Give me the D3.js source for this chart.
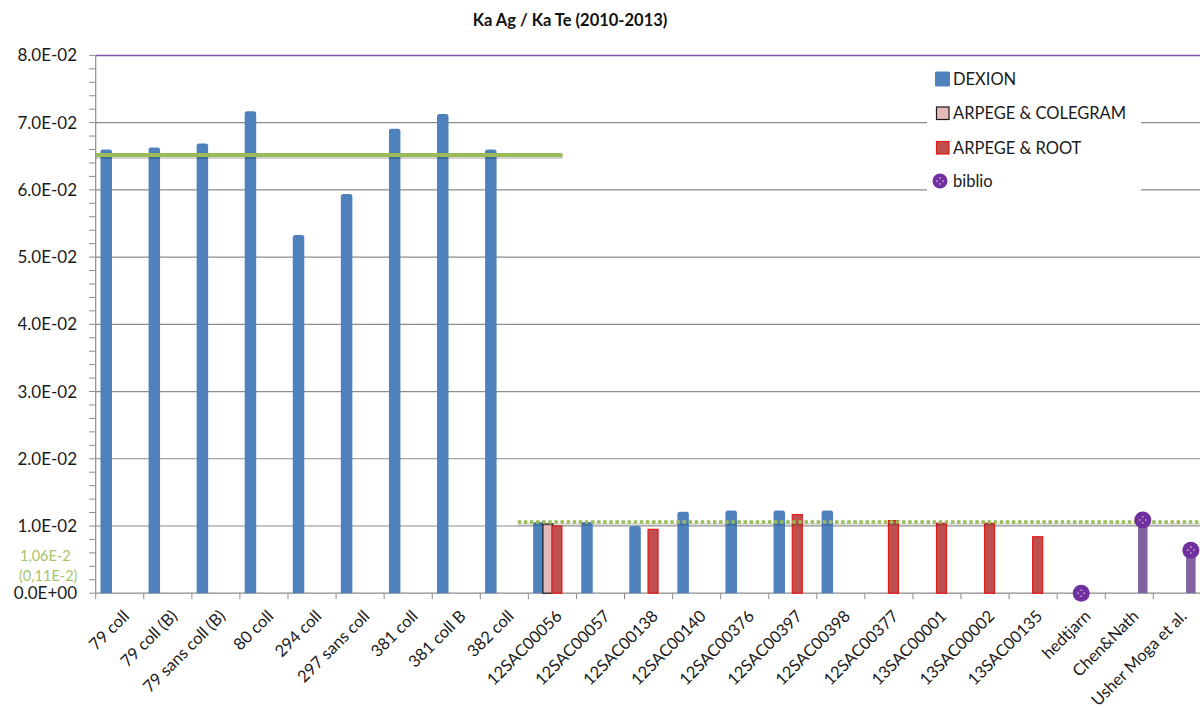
<!DOCTYPE html>
<html><head><meta charset="utf-8">
<script src="https://cdn.jsdelivr.net/npm/d3@7"></script>
<style>
html,body{margin:0;padding:0;background:#fff;}
svg{display:block;font-family:Lato,"Open Sans",sans-serif;}
</style></head>
<body>
<svg id="chart" width="1200" height="709"></svg>
<script>
const title = "Ka Ag / Ka Te (2010-2013)";
const categories = ["79 coll","79 coll (B)","79 sans coll (B)","80 coll","294 coll","297 sans coll","381 coll","381 coll B","382 coll","12SAC00056","12SAC00057","12SAC00138","12SAC00140","12SAC00376","12SAC00397","12SAC00398","12SAC00377","13SAC00001","13SAC00002","13SAC00135","hedtjarn","Chen&Nath","Usher Moga et al."];
const seriesNames = ["DEXION","ARPEGE & COLEGRAM","ARPEGE & ROOT","biblio"];
const dexion   = [0.0660,0.0663,0.0669,0.0717,0.0533,0.0594,0.0691,0.0713,0.0660,0.0106,0.0106,0.0100,0.0121,0.0123,0.0123,0.0123,null,null,null,null,null,null,null];
const colegram = [null,null,null,null,null,null,null,null,null,0.0103,null,null,null,null,null,null,null,null,null,null,null,null,null];
const root     = [null,null,null,null,null,null,null,null,null,0.0100,null,0.0095,null,null,0.0117,null,0.0108,0.0104,0.0104,0.0084,null,null,null];
const biblio   = [null,null,null,null,null,null,null,null,null,null,null,null,null,null,null,null,null,null,null,null,0,0.0109,0.0064];
const yTicks = [0,0.01,0.02,0.03,0.04,0.05,0.06,0.07,0.08];
const yMinorStep = 0.002;
// reference lines: value, start and end in category units
const meanDexion = {value:0.0652, from:0, to:9.71};
const meanSmall  = {value:0.0106, from:8.78, to:23};
const meanLabel = ["1,06E-2","(0,11E-2)"];

const colors = {"DEXION":"#4F81BD","ARPEGE & COLEGRAM":"#E6B9B8","ARPEGE & ROOT":"#C0504D","biblio":"#8064A2"};
const strokes = {"DEXION":"none","ARPEGE & COLEGRAM":"#1a1a1a","ARPEGE & ROOT":"#E01B1B","biblio":"none"};
const markerColor = "#7030A0";
const green = "#9BBB59";

const svg = d3.select("#chart");
const x0 = 95.7, x1r = 1201.4, yTop = 55.4, yBot = 593.2;
const x = d3.scaleBand().domain(categories).range([x0, x1r]).padding(0);
const xc = d3.scaleLinear().domain([0, categories.length]).range([x0, x1r]);
const xs = d3.scaleBand().domain(seriesNames).range([-18, 18]);
const barW = 11.5;
const y = d3.scaleLinear().domain([0, 0.08]).range([yBot, yTop]);

// title
svg.append("text").attr("x", 570).attr("y", 26).attr("text-anchor","middle")
  .attr("font-size", 16.5).attr("font-weight","bold").attr("fill","#111").text(title);

// gridlines
svg.append("g").selectAll("line").data(yTicks.filter(d=>d>0)).join("line")
  .attr("x1", x0).attr("x2", 1200).attr("y1", d=>y(d)).attr("y2", d=>y(d))
  .attr("stroke", d=> d===0.08 ? "#7F4FB0" : "#8C8C8C").attr("stroke-width", d=> d===0.08?1.5:1.2);

// y axis minor ticks
const minor = d3.range(0, 0.08+1e-9, yMinorStep);
svg.append("g").selectAll("line").data(minor).join("line")
  .attr("x1", x0-6.5).attr("x2", x0).attr("y1", d=>y(d)).attr("y2", d=>y(d))
  .attr("stroke","#8C8C8C").attr("stroke-width",1);
svg.append("line").attr("x1",x0).attr("x2",x0).attr("y1",yTop).attr("y2",yBot).attr("stroke","#8C8C8C").attr("stroke-width",1.2);

// y labels
const fmt = d => d===0 ? "0.0E+00" : (d*100).toFixed(1)+"E-02";
svg.append("g").selectAll("text").data(yTicks).join("text")
  .attr("x", 77).attr("y", d=>y(d)+6).attr("text-anchor","end")
  .attr("font-size",17).attr("fill","#1a1a1a").text(fmt);

// mean label
svg.append("g").selectAll("text").data(meanLabel).join("text")
  .attr("x", (d,i)=> i===0 ? 20 : 19).attr("y",(d,i)=> i===0 ? 561 : 580.5)
  .attr("font-size",14.5).attr("fill","#A7C46A").text(d=>d);

// x axis
svg.append("line").attr("x1",x0).attr("x2",1200).attr("y1",yBot).attr("y2",yBot).attr("stroke","#8C8C8C").attr("stroke-width",1.2);
svg.append("g").selectAll("line").data(d3.range(categories.length)).join("line")
  .attr("x1", i=>xc(i)).attr("x2", i=>xc(i)).attr("y1", yBot).attr("y2", yBot+6)
  .attr("stroke","#8C8C8C").attr("stroke-width",1);
svg.append("g").selectAll("text").data(categories).join("text")
  .attr("transform", d=>`translate(${x(d)+x.bandwidth()/2+10.5},${yBot+24}) rotate(-45)`)
  .attr("text-anchor","end").attr("font-size",16.5).attr("fill","#1a1a1a").text(d=>d);

// bars
const seriesData = {"DEXION":dexion,"ARPEGE & COLEGRAM":colegram,"ARPEGE & ROOT":root,"biblio":biblio};
const bx = (cat, s) => x(cat)+x.bandwidth()/2 + xs(s) + xs.bandwidth()/2;
function topRounded(xl, yt, w, h, r){
  r = Math.min(r, h, w/2);
  return `M${xl},${yt+h}V${yt+r}Q${xl},${yt} ${xl+r},${yt}H${xl+w-r}Q${xl+w},${yt} ${xl+w},${yt+r}V${yt+h}Z`;
}
seriesNames.forEach(s=>{
  const vals = seriesData[s];
  const data = categories.map((c,i)=>({c, v:vals[i]})).filter(d=>d.v!==null && d.v>0);
  const g = svg.append("g");
  if (s==="DEXION"){
    g.selectAll("path").data(data).join("path")
      .attr("d", d=>topRounded(bx(d.c,s)-barW/2, y(d.v), barW, yBot-y(d.v), 2.5))
      .attr("fill", colors[s]);
  } else {
    const w = s==="biblio" ? 9.5 : 10;
    g.selectAll("rect").data(data).join("rect")
      .attr("x", d=>bx(d.c,s)-w/2).attr("y", d=>y(d.v))
      .attr("width", w).attr("height", d=>yBot-y(d.v))
      .attr("fill", colors[s]).attr("stroke", strokes[s]).attr("stroke-width", strokes[s]==="none"?0:1.2);
  }
});

// reference lines
svg.append("line").attr("x1",xc(meanDexion.from)).attr("x2",xc(meanDexion.to))
  .attr("y1",y(meanDexion.value)+2).attr("y2",y(meanDexion.value)+2)
  .attr("stroke","#000").attr("stroke-opacity",0.18).attr("stroke-width",4);
svg.append("line").attr("x1",xc(meanDexion.from)).attr("x2",xc(meanDexion.to))
  .attr("y1",y(meanDexion.value)).attr("y2",y(meanDexion.value))
  .attr("stroke",green).attr("stroke-width",4);
svg.append("line").attr("x1",xc(meanSmall.from)).attr("x2",1200)
  .attr("y1",y(meanSmall.value)+2.5).attr("y2",y(meanSmall.value)+2.5)
  .attr("stroke","#000").attr("stroke-opacity",0.12).attr("stroke-width",3);
svg.append("line").attr("x1",xc(meanSmall.from)).attr("x2",1200)
  .attr("y1",y(meanSmall.value)).attr("y2",y(meanSmall.value))
  .attr("stroke",green).attr("stroke-width",3.5).attr("stroke-dasharray","3.5 2.6");

// biblio markers (hedtjarn zero point sits at the category centre)
const mk = categories.map((c,i)=>({c, v:biblio[i]})).filter(d=>d.v!==null);
function marker(g, cx, cy, r){
  g.append("circle").attr("cx",cx).attr("cy",cy).attr("r",r).attr("fill",markerColor);
  [[0,-3],[0,3],[-3,0],[3,0]].forEach(([dx,dy])=>
    g.append("circle").attr("cx",cx+dx).attr("cy",cy+dy).attr("r",0.9).attr("fill","#fff").attr("fill-opacity",0.55));
}
const mg = svg.append("g");
mk.forEach(d=>{
  const cx = d.v===0 ? x(d.c)+x.bandwidth()/2 : bx(d.c,"biblio");
  marker(mg, cx, y(d.v), 8.5);
});

// legend
const lg = svg.append("g");
lg.append("rect").attr("x",927).attr("y",62).attr("width",214).attr("height",134).attr("fill","#fff");
const ly = [79, 113, 147.5, 181];
seriesNames.forEach((s,i)=>{
  const yy = ly[i];
  if (s==="biblio") marker(lg, 940, yy, 7.5);
  else if (s==="DEXION") lg.append("rect").attr("x",935).attr("y",yy-7.5).attr("width",15).attr("height",15).attr("rx",1.5).attr("fill",colors[s]);
  else lg.append("rect").attr("x",936.5).attr("y",yy-6).attr("width",12.5).attr("height",12.5)
        .attr("fill",colors[s]).attr("stroke",strokes[s]).attr("stroke-width",1.2);
  lg.append("text").attr("x",953).attr("y",yy+6).attr("font-size",16.5).attr("fill","#1a1a1a").text(s);
});
</script>
</body></html>
